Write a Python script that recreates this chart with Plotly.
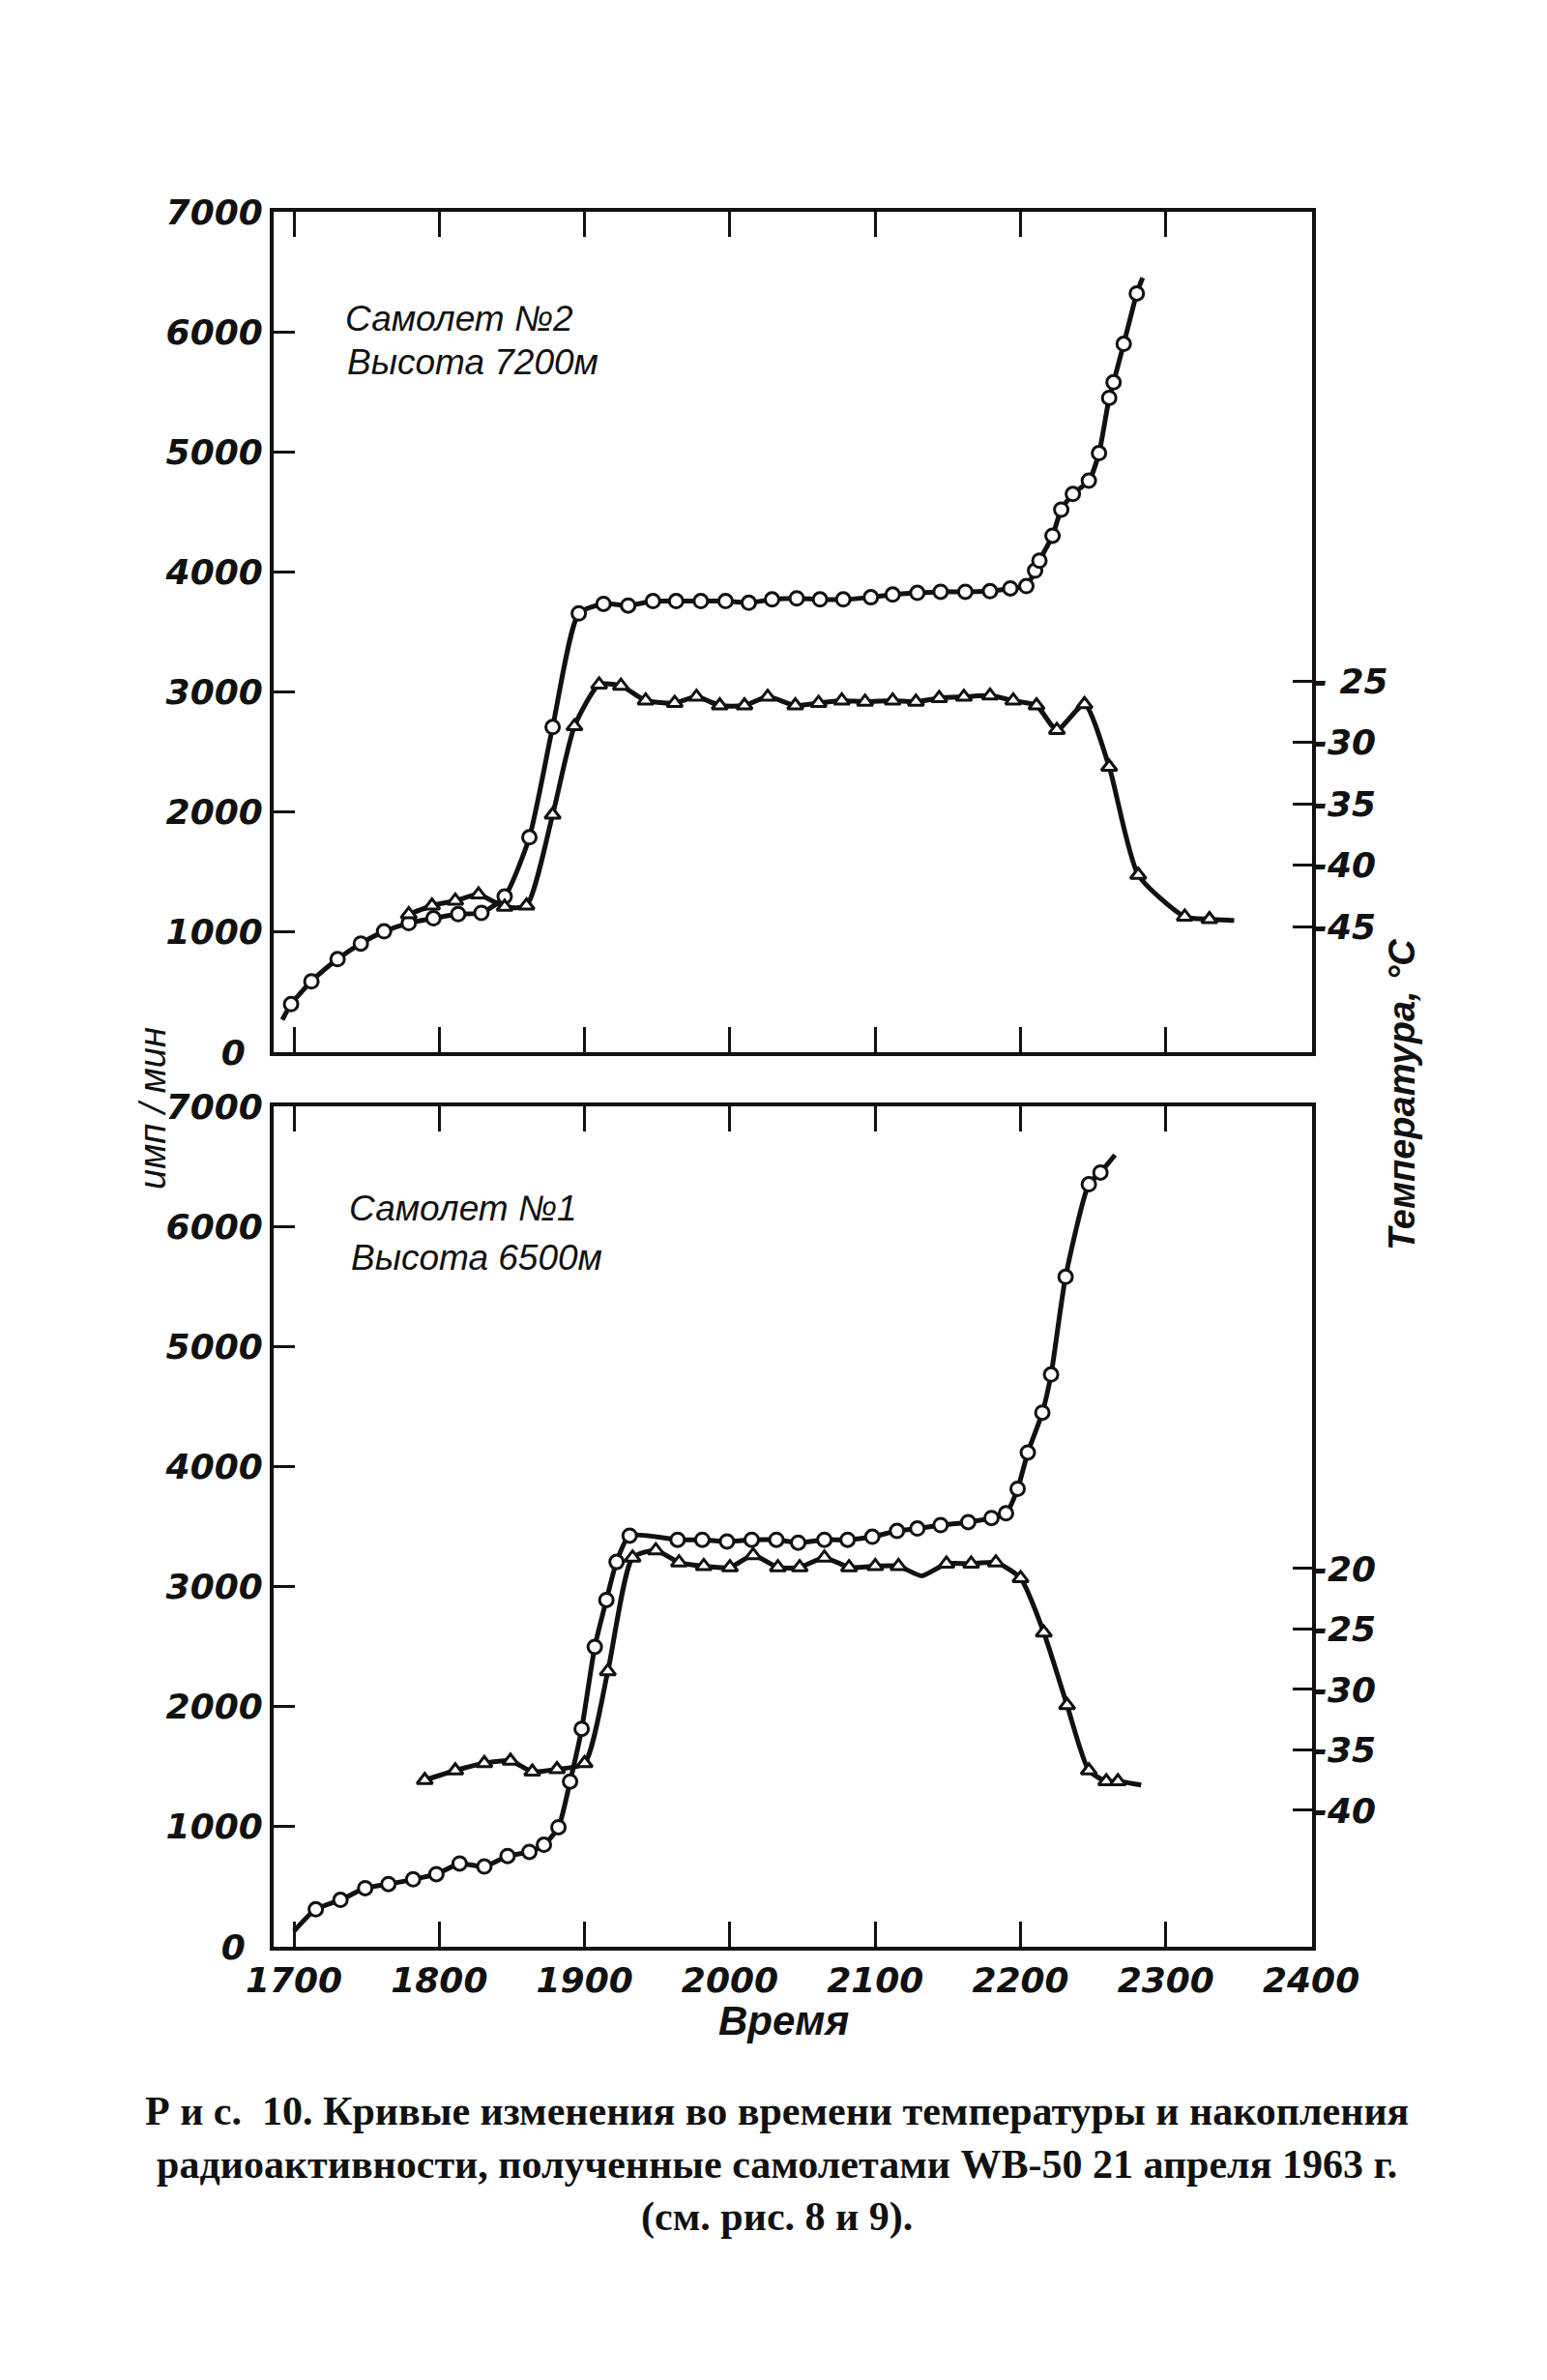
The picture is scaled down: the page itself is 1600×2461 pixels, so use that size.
import plotly.graph_objects as go

# ---------------- data (time in decimal hours) ----------------
# Panel 1: Самолет №2, 7200 m
top_cnt_t = [16.98, 17.12, 17.30, 17.46, 17.62, 17.79, 17.96, 18.13, 18.29, 18.45,
             18.62, 18.78, 18.96, 19.13, 19.30, 19.47, 19.63, 19.80, 19.97, 20.13,
             20.29, 20.46, 20.62, 20.78, 20.97, 21.12, 21.29, 21.45, 21.62, 21.79,
             21.93, 22.04, 22.10, 22.13, 22.22, 22.28, 22.36, 22.47, 22.54, 22.61,
             22.64, 22.71, 22.80]
top_cnt_v = [400, 590, 775, 905, 1006, 1075, 1115, 1150, 1160, 1296,
             1790, 2708, 3655, 3734, 3720, 3757, 3757, 3757, 3757, 3743,
             3771, 3780, 3771, 3771, 3789, 3812, 3826, 3835, 3835, 3840,
             3863, 3882, 4011, 4094, 4302, 4519, 4649, 4760, 4990, 5450,
             5580, 5900, 6320]
top_cnt_ends_t = [16.92, 22.84]
top_cnt_ends_v = [270, 6450]

top_tmp_t = [17.79, 17.95, 18.11, 18.27, 18.45, 18.60, 18.78, 18.93, 19.10, 19.25,
             19.42, 19.62, 19.77, 19.93, 20.10, 20.26, 20.45, 20.61, 20.77, 20.93,
             21.12, 21.28, 21.44, 21.61, 21.79, 21.95, 22.11, 22.25, 22.44, 22.61,
             22.81, 23.13, 23.30]
top_tmp_v = [-44.0, -43.3, -42.9, -42.4, -43.4, -43.3, -35.9, -28.7, -25.3, -25.4,
             -26.6, -26.8, -26.3, -27.0, -27.0, -26.3, -27.0, -26.8, -26.6, -26.7,
             -26.6, -26.7, -26.4, -26.3, -26.2, -26.6, -27.0, -29.0, -26.9, -32.0,
             -40.8, -44.2, -44.4]
top_tmp_ends_t = [23.47]
top_tmp_ends_v = [-44.5]

# Panel 2: Самолет №1, 6500 m
bot_cnt_t = [17.15, 17.32, 17.49, 17.65, 17.82, 17.98, 18.14, 18.31, 18.47, 18.62,
             18.72, 18.82, 18.90, 18.98, 19.07, 19.15, 19.22, 19.31, 19.64, 19.81,
             19.98, 20.15, 20.32, 20.47, 20.65, 20.81, 20.98, 21.15, 21.29, 21.45,
             21.64, 21.80, 21.90, 21.98, 22.05, 22.15, 22.21, 22.31, 22.47, 22.55]
bot_cnt_v = [312, 390, 488, 522, 561, 605, 693, 668, 756, 790,
             849, 995, 1376, 1815, 2498, 2888, 3205, 3424, 3390, 3390,
             3376, 3390, 3390, 3366, 3390, 3390, 3415, 3463, 3483, 3512,
             3537, 3571, 3610, 3815, 4117, 4449, 4766, 5580, 6351, 6449]
bot_cnt_ends_t = [17.00, 22.65]
bot_cnt_ends_v = [130, 6595]

bot_tmp_t = [17.90, 18.11, 18.31, 18.49, 18.64, 18.81, 19.00, 19.16, 19.33, 19.49,
             19.65, 19.82, 20.00, 20.16, 20.33, 20.48, 20.65, 20.82, 21.00, 21.16,
             21.49, 21.66, 21.83, 22.00, 22.16, 22.32, 22.47, 22.59, 22.67]
bot_tmp_v = [-37.5, -36.7, -36.1, -35.9, -36.8, -36.6, -36.1, -28.5, -19.1, -18.5,
             -19.5, -19.8, -19.9, -18.9, -19.9, -19.9, -19.1, -19.9, -19.8, -19.8,
             -19.6, -19.6, -19.5, -20.8, -25.3, -31.3, -36.7, -37.6, -37.6]
bot_tmp_extra_t = [21.32, 22.83]
bot_tmp_extra_v = [-20.6, -37.9]

x_tickvals = [17, 18, 19, 20, 21, 22, 23, 24]
x_ticktext = ["1700", "1800", "1900", "2000", "2100", "2200", "2300", "2400"]
cnt_tickvals = [0, 1000, 2000, 3000, 4000, 5000, 6000, 7000]
cnt_ticktext = ["0\u2002", "1000", "2000", "3000", "4000", "5000", "6000", "7000"]
top_tmp_tickvals = [-45, -40, -35, -30, -25]
top_tmp_ticktext = ["-45", "-40", "-35", "-30", "- 25"]
bot_tmp_tickvals = [-40, -35, -30, -25, -20]
bot_tmp_ticktext = ["-40", "-35", "-30", "-25", "-20"]

caption_lines = [
    "Р и с.  10. Кривые изменения во времени температуры и накопления",
    "радиоактивности, полученные самолетами WB-50 21 апреля 1963 г.",
    "(см. рис. 8 и 9).",
]

# ---------------- styling ----------------
W, H = 1600, 2461
BLK = "#111111"
NUM_FONT = dict(family="DejaVu Sans, Liberation Sans, Arial",
                size=36, color=BLK, style="italic", weight="bold")
LINE_W = 5


def merged(t1, v1, t2, v2):
    pts = sorted(zip(list(t1) + list(t2), list(v1) + list(v2)))
    return [p[0] for p in pts], [p[1] for p in pts]


fig = go.Figure()


def add_series(t, v, et, ev, xa, ya, symbol):
    lt, lv = merged(t, v, et, ev)
    fig.add_trace(go.Scatter(x=lt, y=lv, xaxis=xa, yaxis=ya, mode="lines",
                             line=dict(color=BLK, width=LINE_W, shape="spline", smoothing=0.6),
                             hoverinfo="skip", showlegend=False))
    fig.add_trace(go.Scatter(x=t, y=v, xaxis=xa, yaxis=ya, mode="markers",
                             marker=dict(symbol=symbol, size=14, color="white",
                                         line=dict(color=BLK, width=3)),
                             showlegend=False))


add_series(top_tmp_t, top_tmp_v, top_tmp_ends_t, top_tmp_ends_v, "x", "y2", "triangle-up")
add_series(top_cnt_t, top_cnt_v, top_cnt_ends_t, top_cnt_ends_v, "x", "y", "circle")
add_series(bot_tmp_t, bot_tmp_v, bot_tmp_extra_t, bot_tmp_extra_v, "x2", "y4", "triangle-up")
add_series(bot_cnt_t, bot_cnt_v, bot_cnt_ends_t, bot_cnt_ends_v, "x2", "y3", "circle")

XDOM = [275 / W, 1349 / W]
TOP_DOM = [1 - 1080 / H, 1 - 211 / H]
BOT_DOM = [1 - 2005 / H, 1 - 1136 / H]
XRANGE = [16.86, 24.006]

xcommon = dict(range=XRANGE, domain=XDOM, tickvals=x_tickvals, ticktext=x_ticktext,
               ticks="inside", ticklen=26, tickwidth=3, tickcolor=BLK,
               showline=True, linewidth=4, linecolor=BLK, mirror="ticks",
               showgrid=False, zeroline=False, tickfont=NUM_FONT, automargin=False)
ycommon = dict(range=[0, 7000], tickvals=cnt_tickvals, ticktext=cnt_ticktext,
               ticks="inside", ticklen=22, tickwidth=3, tickcolor=BLK,
               showline=True, linewidth=4, linecolor=BLK, mirror=True,
               showgrid=False, zeroline=False, tickfont=NUM_FONT, automargin=False)
tcommon = dict(side="right", ticks="inside", ticklen=20, tickwidth=3, tickcolor=BLK,
               showline=False, showgrid=False, zeroline=False, tickfont=NUM_FONT,
               automargin=False)

fig.update_layout(
    width=W, height=H,
    margin=dict(l=0, r=0, t=0, b=0, autoexpand=False),
    paper_bgcolor="white", plot_bgcolor="white",
    xaxis=dict(anchor="y", showticklabels=False, **xcommon),
    yaxis=dict(domain=TOP_DOM, anchor="x", **ycommon),
    yaxis2=dict(overlaying="y", anchor="x", range=[-55.23, 13.20],
                tickvals=top_tmp_tickvals, ticktext=top_tmp_ticktext, **tcommon),
    xaxis2=dict(anchor="y3", showticklabels=True, **xcommon),
    yaxis3=dict(domain=BOT_DOM, anchor="x2", **ycommon),
    yaxis4=dict(overlaying="y3", anchor="x2", range=[-51.28, 18.23],
                tickvals=bot_tmp_tickvals, ticktext=bot_tmp_ticktext, **tcommon),
)

LBL_FONT = dict(family="Liberation Sans, DejaVu Sans, Arial", size=37, color=BLK, style="italic")


def ann(text, px, py, font, xanchor="center", angle=0):
    fig.add_annotation(text=text, x=px / W, y=1 - py / H, xref="paper", yref="paper",
                       showarrow=False, xanchor=xanchor, yanchor="middle",
                       textangle=angle, font=font)


ann("Самолет №2", 347, 321, LBL_FONT, "left")
ann("Высота 7200м", 349, 366, LBL_FONT, "left")
ann("Самолет №1", 351, 1241, LBL_FONT, "left")
ann("Высота 6500м", 353, 1292, LBL_FONT, "left")

ann("Время", 803, 2081, dict(family="Liberation Sans, DejaVu Sans, Arial", size=42,
                             color=BLK, style="italic", weight="bold"))
ann("имп / мин", 150, 1138, dict(family="Liberation Sans, DejaVu Sans, Arial", size=38,
                                 color=BLK, style="italic"), angle=-90)
ann("Температура, °С", 1442, 1124, dict(family="Liberation Sans, DejaVu Sans, Arial", size=38,
                                        color=BLK, style="italic", weight="bold"), angle=-90)

CAP_FONT = dict(family="Liberation Serif, DejaVu Serif, Times New Roman", size=42,
                color=BLK, weight="bold")
fig.add_annotation(text="<br>".join(caption_lines), x=795 / W, y=1 - 2230 / H,
                   xref="paper", yref="paper", showarrow=False, xanchor="center",
                   yanchor="middle", align="center", font=CAP_FONT)

fig.write_html("out.html")
